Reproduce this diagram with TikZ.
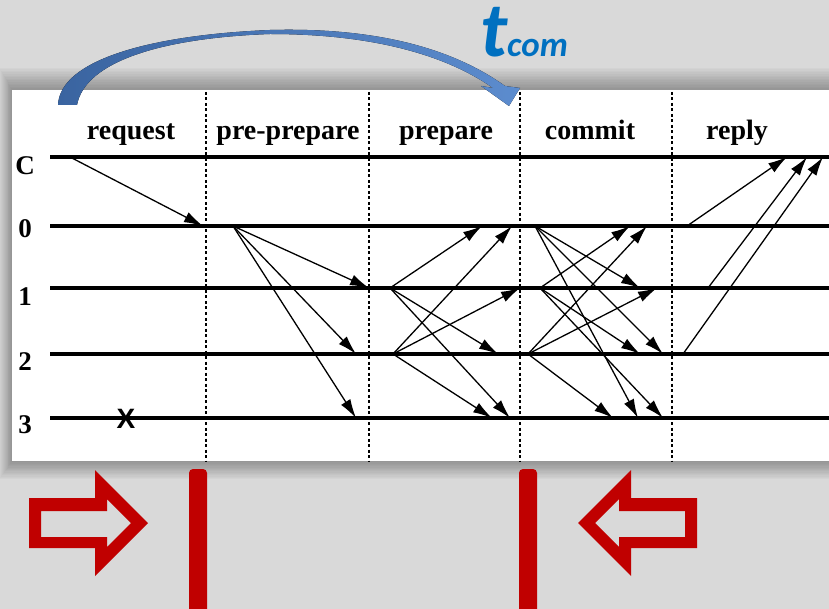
\documentclass[tikz,border=0pt]{standalone}
\usepackage{fontspec}
\setmainfont{Liberation Serif}
\newfontfamily\slidefont{Carlito}
\newfontfamily\markfont{Liberation Sans}
\usepackage{xcolor}
\usetikzlibrary{arrows.meta, positioning}
\definecolor{slidegray}{RGB}{217,217,217}
\definecolor{tblue}{RGB}{0,112,192}
\definecolor{arcdark}{RGB}{58,100,160}
\definecolor{arclight}{RGB}{92,140,206}
\definecolor{markred}{RGB}{192,0,0}

\begin{document}
\begin{tikzpicture}[x=1pt, y=-1pt, >={Latex[length=19pt,width=11pt]},
    timeline/.style={line width=3.2pt},
    msg/.style={->, line width=1.3pt},
    phaseline/.style={line width=1.3pt, dash pattern=on 3pt off 2.5pt},
    phase/.style={font=\bfseries\fontsize{28}{28}\selectfont, anchor=base, inner sep=0pt},
    replica/.style={font=\bfseries\fontsize{27}{27}\selectfont, inner sep=0pt},
    redarrow/.style={fill=markred, even odd rule},
    redbar/.style={fill=markred, rounded corners=4pt}]

  % slide background and the white panel with its soft shadow
  \fill[slidegray] (0,0) rectangle (829,609);
  \useasboundingbox (0,0) rectangle (829,609);
  \foreach \s in {1,...,14}
    \fill[black, opacity=0.024] (12-0.9*\s,90-1.6*\s) rectangle (840,461+1.3*\s);
  \fill[white] (12,90) rectangle (840,461);

  % phase borders
  \foreach \x [count=\i] in {206,369,520,672} {
    \coordinate (top\i) at (\x,92);
    \coordinate (bot\i) at (\x,461);
    \draw[phaseline] (top\i) -- (bot\i);
  }

  % phase names
  \node[phase] (request) at (131,140) {request};
  \node[phase] (preprep) at (288,140) {pre-prepare};
  \node[phase] (prepare) at (446,140) {prepare};
  \node[phase] (commit)  at (590,140) {commit};
  \node[phase] (reply)   at (737,140) {reply};

  % client and replica time lines
  \foreach \r/\y/\ly in {C/157/166, 0/226/229, 1/288/297, 2/354/362, 3/418/425} {
    \node[replica] (lbl\r) at (25,\ly) {\r};
    \coordinate (row\r) at (50,\y);
    \coordinate (end\r) at (840,\y);
    \draw[timeline] (row\r) -- (end\r);
  }
  \node[font=\markfont\bfseries\fontsize{28}{28}\selectfont, inner sep=0pt] (fail) at (126,419) {X};

  % send and receive events
  \foreach \n/\x/\y in {req-s/70/157, req-r/203/226,
      pp-s/233/226, pp-r1/369/288, pp-r2/356/354, pp-r3/356/418,
      pa-s/390/288, pa-r0/482/226, pa-r2/498/354, pa-r3/510/418,
      pb-s/393/354, pb-r0/512/226, pb-r1/520/288, pb-r3/492/418,
      ca-s/535/226, ca-r1/640/288, ca-r2/663/354, ca-r3/638/418,
      cb-s/540/288, cb-r0/630/226, cb-r2/640/354, cb-r3/663/418,
      cc-s/528/354, cc-r0/647/226, cc-r1/657/288, cc-r3/613/418,
      ra-s/687/226, ra-r/787/157, rb-s/708/288, rb-r/807/157,
      rc-s/683/354, rc-r/823/157}
    \coordinate (\n) at (\x,\y);

  % messages
  \foreach \m/\targets in {req/{r}, pp/{r1,r2,r3}, pa/{r0,r2,r3}, pb/{r0,r1,r3},
      ca/{r1,r2,r3}, cb/{r0,r2,r3}, cc/{r0,r1,r3}, ra/{r}, rb/{r}, rc/{r}}
    \foreach \t in \targets
      \draw[msg] (\m-s) -- (\m-\t);

  % commit time arc
  \fill[left color=arcdark, right color=arclight]
    (58,105) .. controls (60,60) and (150,35) .. (270,30)
    .. controls (380,27) and (455,50) .. (505,86)
    -- (520,88) -- (509,106) -- (481,86) -- (493,88)
    .. controls (450,58) and (380,34) .. (270,34)
    .. controls (160,38) and (85,62) .. (77,105) -- cycle;
  \node[text=tblue, anchor=base west, inner sep=0pt] (tcom) at (480,57)
    {\slidefont\bfseries\itshape\fontsize{78}{78}\selectfont t\fontsize{35}{35}\selectfont com};

  % red markers
  \fill[redarrow] (29,498) -- (95,498) -- (95,470) -- (148,523) -- (95,576) -- (95,548) -- (29,548) -- cycle
    (41,511) -- (107,511) -- (107,499) -- (131,523) -- (107,547) -- (107,537) -- (41,537) -- cycle;
  \fill[redarrow] (697,498) -- (631,498) -- (631,470) -- (578,523) -- (631,576) -- (631,548) -- (697,548) -- cycle
    (685,511) -- (619,511) -- (619,499) -- (595,523) -- (619,547) -- (619,537) -- (685,537) -- cycle;
  \fill[redbar] (189,469) rectangle (207,625);
  \fill[redbar] (519,469) rectangle (537,625);
\end{tikzpicture}
\end{document}
